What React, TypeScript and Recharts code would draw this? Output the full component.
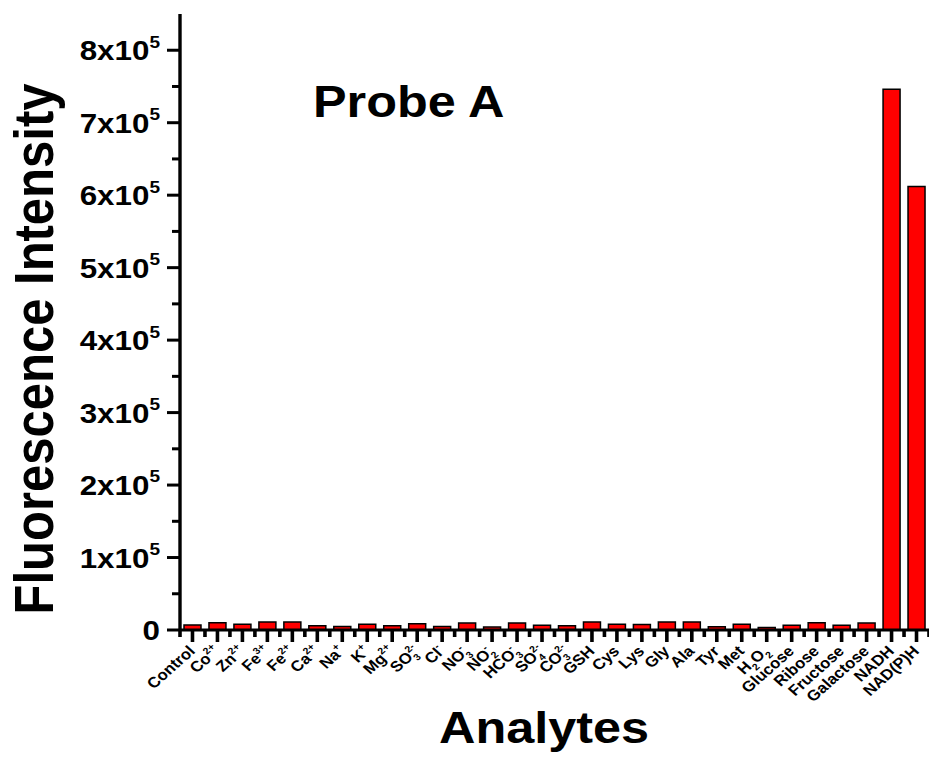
import React from "react";
import { BarChart, Bar, XAxis, YAxis } from "recharts";

// analytes, in the order of the x axis
const categories = [
  "Control", "Co2+", "Zn2+", "Fe3+", "Fe2+", "Ca2+", "Na+", "K+", "Mg2+", "SO3 2-",
  "Cl-", "NO3-", "NO2-", "HCO3-", "SO4 2-", "CO3 2-", "GSH", "Cys", "Lys", "Gly",
  "Ala", "Tyr", "Met", "H2O2", "Glucose", "Ribose", "Fructose", "Galactose", "NADH", "NAD(P)H",
];

// same labels with _{sub} / ^{sup} markup
const tickLabels = [
  "Control", "Co^{2+}", "Zn^{2+}", "Fe^{3+}", "Fe^{2+}", "Ca^{2+}", "Na^{+}", "K^{+}", "Mg^{2+}", "SO_{3}^{2-}",
  "Cl^{-}", "NO_{3}^{-}", "NO_{2}^{-}", "HCO_{3}^{-}", "SO_{4}^{2-}", "CO_{3}^{2-}", "GSH", "Cys", "Lys", "Gly",
  "Ala", "Tyr", "Met", "H_{2}O_{2}", "Glucose", "Ribose", "Fructose", "Galactose", "NADH", "NAD(P)H",
];

const intensity = [
  7000, 10000, 8000, 11000, 11000, 6000, 5000, 8000, 6000, 8500,
  5000, 9500, 4000, 9500, 6500, 6000, 11000, 8000, 7500, 11000,
  11000, 4500, 8000, 3500, 6500, 10000, 6500, 9500, 746000, 612000,
];

const yMajorTicks = [0, 100000, 200000, 300000, 400000, 500000, 600000, 700000, 800000];
const yMinorTicks = [50000, 150000, 250000, 350000, 450000, 550000, 650000, 750000];
const yMax = 850000;

const data = categories.map((name, i) => ({ name, value: intensity[i] }));

// fonts in the original are stretched sideways a bit
const SX = 1.12;
const W = 929;
const H = 760;
const LEFT = 180;
const TOP = 14;
const XAXIS_H = 130;
const BAND = (W - LEFT) / categories.length;
const FONT = "'Liberation Sans', Arial, Helvetica, sans-serif";

function richText(markup: string, base: number, small: number) {
  const parts = markup.split(/(_\{[^}]*\}|\^\{[^}]*\})/).filter(Boolean);
  let shift = 0;
  let lastSub = 0;
  return parts.map((p, i) => {
    let target = 0;
    let size = base;
    let text = p;
    let dx = 0;
    if (p.startsWith("_{")) {
      target = base * 0.3;
      size = small;
      text = p.slice(2, -1);
    } else if (p.startsWith("^{")) {
      target = -base * 0.45;
      size = small;
      text = p.slice(2, -1);
      if (lastSub) dx = -lastSub;
    }
    const dy = target - shift;
    shift = target;
    lastSub = p.startsWith("_{") ? text.length * small * 0.556 : 0;
    return (
      <tspan key={i} fontSize={size} dy={dy || undefined} dx={dx || undefined}>
        {text}
      </tspan>
    );
  });
}

const YTick = (props: any) => {
  const { x, y, payload } = props;
  const v = payload.value as number;
  const major = v % 100000 === 0;
  const label = v === 0 ? "0" : `${v / 100000}x10^{5}`;
  return (
    <g>
      <line x1={x - (major ? 13 : 8)} x2={x} y1={y} y2={y} stroke="#000" strokeWidth={3} />
      {major && (
        <text
          transform={`translate(${x - 20},${y + 10}) scale(${SX},1)`}
          textAnchor="end"
          fontFamily={FONT}
          fontWeight="bold"
          fontSize={28}
          fill="#000"
        >
          {richText(label, 28, 17)}
        </text>
      )}
    </g>
  );
};

const XTick = (props: any) => {
  const { x, y, index } = props;
  const last = index === categories.length - 1;
  const markup = tickLabels[index] ?? "";
  const lx = x + 3.5;
  const ly = y + 22;
  return (
    <g>
      <line x1={x} x2={x} y1={y} y2={y + 12} stroke="#000" strokeWidth={3.6} />
      <line x1={x - BAND / 2} x2={x - BAND / 2} y1={y} y2={y + 7} stroke="#000" strokeWidth={3.6} />
      {last && (
        <line x1={x + BAND / 2} x2={x + BAND / 2} y1={y} y2={y + 7} stroke="#000" strokeWidth={3.6} />
      )}
      <text
        transform={`translate(${lx},${ly}) scale(${SX},1) rotate(-45)`}
        textAnchor="end"
        fontFamily={FONT}
        fontWeight="bold"
        fontSize={15}
        fill="#000"
      >
        {richText(markup, 15, 9.5)}
      </text>
    </g>
  );
};

export default function App() {
  return (
    <div
      style={{
        position: "absolute",
        left: 0,
        top: 0,
        width: W,
        height: H,
        overflow: "hidden",
        background: "#fff",
      }}
    >
      <BarChart
        width={W}
        height={H}
        data={data}
        margin={{ top: TOP, right: 0, bottom: 0, left: 0 }}
        barCategoryGap="16%"
      >
        <XAxis
          dataKey="name"
          interval={0}
          height={XAXIS_H}
          tickLine={false}
          tickSize={0}
          tickMargin={0}
          axisLine={{ stroke: "#000", strokeWidth: 3 }}
          tick={<XTick />}
        />
        <YAxis
          width={LEFT}
          domain={[0, yMax]}
          ticks={[...yMajorTicks, ...yMinorTicks].sort((a, b) => a - b)}
          interval={0}
          allowDataOverflow
          tickLine={false}
          tickSize={0}
          tickMargin={0}
          axisLine={{ stroke: "#000", strokeWidth: 3.4 }}
          tick={<YTick />}
        />
        <Bar
          dataKey="value"
          fill="#ff0000"
          stroke="#000"
          strokeWidth={1.5}
          isAnimationActive={false}
        />
      </BarChart>
      <svg
        width={W}
        height={H}
        style={{ position: "absolute", left: 0, top: 0, pointerEvents: "none" }}
        fontFamily={FONT}
        fontWeight="bold"
      >
        <text transform={`translate(313,117) scale(${SX},1)`} fontSize={45} fill="#000">
          Probe A
        </text>
        <text
          transform={`translate(544,743) scale(${SX},1)`}
          fontSize={45}
          textAnchor="middle"
          fill="#000"
        >
          Analytes
        </text>
        <text
          transform={`translate(53,349) scale(${SX},1) rotate(-90)`}
          fontSize={49}
          textAnchor="middle"
          fill="#000"
        >
          Fluorescence Intensity
        </text>
      </svg>
    </div>
  );
}
